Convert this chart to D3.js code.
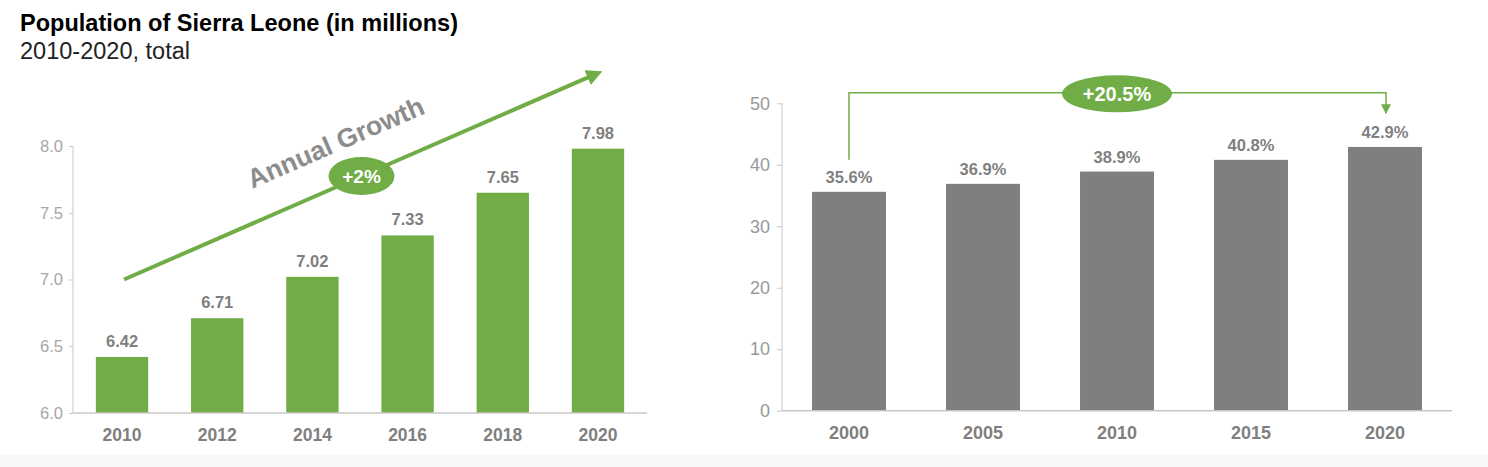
<!DOCTYPE html>
<html>
<head>
<meta charset="utf-8">
<script src="https://cdn.jsdelivr.net/npm/d3@7"></script>
<style>
  html, body { margin: 0; padding: 0; background: #ffffff; }
  svg { display: block; font-family: "Liberation Sans", Arial, sans-serif; }
</style>
</head>
<body>
<svg id="chart" width="1488" height="467"></svg>
<script>
// ---- Data ----
const popYears = ["2010", "2012", "2014", "2016", "2018", "2020"];
const popValues = [6.42, 6.71, 7.02, 7.33, 7.65, 7.98];
const popTicks = [6.0, 6.5, 7.0, 7.5, 8.0];

const urbYears = ["2000", "2005", "2010", "2015", "2020"];
const urbValues = [35.6, 36.9, 38.9, 40.8, 42.9];
const urbTicks = [0, 10, 20, 30, 40, 50];

const titleText = "Population of Sierra Leone (in millions)";
const subtitleText = "2010-2020, total";
const growthLabel = "Annual Growth";
const growthRate = "+2%";
const totalChange = "+20.5%";

// ---- Styles ----
const GREEN = "#70ad47";
const GRAY_BAR = "#7f7f7f";
const AXIS = "#c8c8c8";
const TICK_TXT = "#a6a6a6";
const LABEL_TXT = "#7f7f7f";

const svg = d3.select("#chart");

// bottom light band
svg.append("rect").attr("x", 0).attr("y", 455).attr("width", 1488).attr("height", 12).attr("fill", "#f7f7f7");

// titles
svg.append("text").attr("x", 20).attr("y", 31).attr("font-size", 23.5).attr("font-weight", "bold")
  .attr("fill", "#000").attr("textLength", 438).attr("lengthAdjust", "spacingAndGlyphs").text(titleText);
svg.append("text").attr("x", 20).attr("y", 59).attr("font-size", 23.5)
  .attr("fill", "#222").attr("textLength", 170).attr("lengthAdjust", "spacingAndGlyphs").text(subtitleText);

// ---- Left chart ----
const xL = d3.scaleBand().domain(popYears).range([73, 647]).paddingInner(0.45).paddingOuter(0.24);
const yL = d3.scaleLinear().domain([6, 8]).range([413, 146]);

const gL = svg.append("g");

// y axis
const yAxisL = d3.axisLeft(yL).tickValues(popTicks).tickFormat(d3.format(".1f")).tickSize(4).tickPadding(6);
const gyL = gL.append("g").attr("transform", "translate(73,0)").call(yAxisL);
gyL.select(".domain").attr("stroke", AXIS).attr("d", `M0,${yL(8)}V${yL(6)}`);
gyL.selectAll(".tick line").attr("stroke", AXIS);
gyL.selectAll(".tick text").attr("fill", TICK_TXT).attr("font-size", 16.5).attr("font-family", "Liberation Sans, Arial, sans-serif");

// bars
gL.selectAll("rect.bar").data(popValues).join("rect")
  .attr("x", (d, i) => xL(popYears[i]))
  .attr("y", d => yL(d))
  .attr("width", xL.bandwidth())
  .attr("height", d => yL(6) - yL(d))
  .attr("fill", GREEN);

// baseline
const xAxisL = d3.axisBottom(xL).tickSize(0).tickPadding(16);
const gxL = gL.append("g").attr("transform", `translate(0,${yL(6)})`).call(xAxisL);
gxL.select(".domain").attr("stroke", AXIS).attr("stroke-width", 1.5).attr("d", "M73,0H647");
gxL.selectAll(".tick text").attr("fill", LABEL_TXT).attr("font-size", 17.5).attr("font-weight", "bold")
  .attr("font-family", "Liberation Sans, Arial, sans-serif");

// value labels
gL.selectAll("text.val").data(popValues).join("text")
  .attr("x", (d, i) => xL(popYears[i]) + xL.bandwidth() / 2)
  .attr("y", d => yL(d) - 10)
  .attr("text-anchor", "middle").attr("font-size", 16.5).attr("font-weight", "bold")
  .attr("fill", LABEL_TXT).text(d => d.toFixed(2));

// growth arrow
const defs = svg.append("defs");
defs.append("marker").attr("id", "ah").attr("viewBox", "0 0 10 10").attr("refX", 5).attr("refY", 5)
  .attr("markerWidth", 4).attr("markerHeight", 4).attr("orient", "auto")
  .append("path").attr("d", "M0,0L10,5L0,10Z").attr("fill", GREEN);
defs.append("marker").attr("id", "ah2").attr("viewBox", "0 0 10 10").attr("refX", 9).attr("refY", 5)
  .attr("markerWidth", 10).attr("markerHeight", 10).attr("markerUnits", "userSpaceOnUse").attr("orient", "auto")
  .append("path").attr("d", "M0,0L10,5L0,10Z").attr("fill", GREEN);

const ax0 = xL("2010") + xL.bandwidth() / 2 + 2, ay0 = yL(7.0);
const ax1 = xL("2020") + xL.bandwidth() / 2 + 1, ay1 = yL(8.55);
gL.append("line").attr("x1", ax0).attr("y1", ay0).attr("x2", ax1 - 4).attr("y2", ay1 + 1.8)
  .attr("stroke", GREEN).attr("stroke-width", 4).attr("marker-end", "url(#ah)");

const ang = Math.atan2(ay1 - ay0, ax1 - ax0) * 180 / Math.PI;
const t = 0.5;
const ex = ax0 + (ax1 - ax0) * t, ey = ay0 + (ay1 - ay0) * t;
gL.append("ellipse").attr("cx", ex).attr("cy", ey).attr("rx", 33).attr("ry", 19).attr("fill", GREEN);
gL.append("text").attr("x", ex).attr("y", ey + 7).attr("text-anchor", "middle")
  .attr("font-size", 19).attr("font-weight", "bold").attr("fill", "#fff").text(growthRate);

const tt = 0.48;
const tx = ax0 + (ax1 - ax0) * tt, ty = ay0 + (ay1 - ay0) * tt;
gL.append("text").attr("transform", `translate(${tx},${ty}) rotate(${ang}) translate(0,-32)`)
  .attr("text-anchor", "middle").attr("font-size", 26.5).attr("font-weight", "bold")
  .attr("fill", "#8c8c8c").text(growthLabel);

// ---- Right chart ----
const xR = d3.scaleBand().domain(urbYears).range([782, 1452]).paddingInner(0.448).paddingOuter(0.224);
const yR = d3.scaleLinear().domain([0, 50]).range([410.7, 103.3]);

const gR = svg.append("g");
const yAxisR = d3.axisLeft(yR).tickValues(urbTicks).tickSize(5).tickPadding(7);
const gyR = gR.append("g").attr("transform", "translate(782,0)").call(yAxisR);
gyR.select(".domain").attr("stroke", AXIS).attr("d", `M0,${yR(50)}V${yR(0)}`);
gyR.selectAll(".tick line").attr("stroke", AXIS);
gyR.selectAll(".tick text").attr("fill", "#999").attr("font-size", 18).attr("font-family", "Liberation Sans, Arial, sans-serif");

gR.selectAll("rect.bar").data(urbValues).join("rect")
  .attr("x", (d, i) => xR(urbYears[i]))
  .attr("y", d => yR(d))
  .attr("width", xR.bandwidth())
  .attr("height", d => yR(0) - yR(d))
  .attr("fill", GRAY_BAR);

const xAxisR = d3.axisBottom(xR).tickSize(0).tickPadding(16);
const gxR = gR.append("g").attr("transform", `translate(0,${yR(0)})`).call(xAxisR);
gxR.select(".domain").attr("stroke", AXIS).attr("stroke-width", 1.5).attr("d", "M782,0H1452");
gxR.selectAll(".tick text").attr("fill", LABEL_TXT).attr("font-size", 18).attr("font-weight", "bold")
  .attr("font-family", "Liberation Sans, Arial, sans-serif");

gR.selectAll("text.val").data(urbValues).join("text")
  .attr("x", (d, i) => xR(urbYears[i]) + xR.bandwidth() / 2)
  .attr("y", d => yR(d) - 9)
  .attr("text-anchor", "middle").attr("font-size", 16.5).attr("font-weight", "bold")
  .attr("fill", LABEL_TXT).text(d => d.toFixed(1) + "%");

// bracket annotation
const bx0 = xR("2000") + xR.bandwidth() / 2;
const bx1 = xR("2020") + xR.bandwidth() / 2 + 1;
const byTop = yR(51.7);
gR.append("path")
  .attr("d", `M${bx0},${yR(40.8)}V${byTop}H${bx1}V${yR(48.4)}`)
  .attr("fill", "none").attr("stroke", GREEN).attr("stroke-width", 1.5).attr("marker-end", "url(#ah2)");
const bmx = xR("2010") + xR.bandwidth() / 2;
gR.append("ellipse").attr("cx", bmx).attr("cy", byTop + 1).attr("rx", 55).attr("ry", 18.5).attr("fill", GREEN);
gR.append("text").attr("x", bmx).attr("y", byTop + 8).attr("text-anchor", "middle")
  .attr("font-size", 20).attr("font-weight", "bold").attr("fill", "#fff").text(totalChange);
</script>
</body>
</html>
